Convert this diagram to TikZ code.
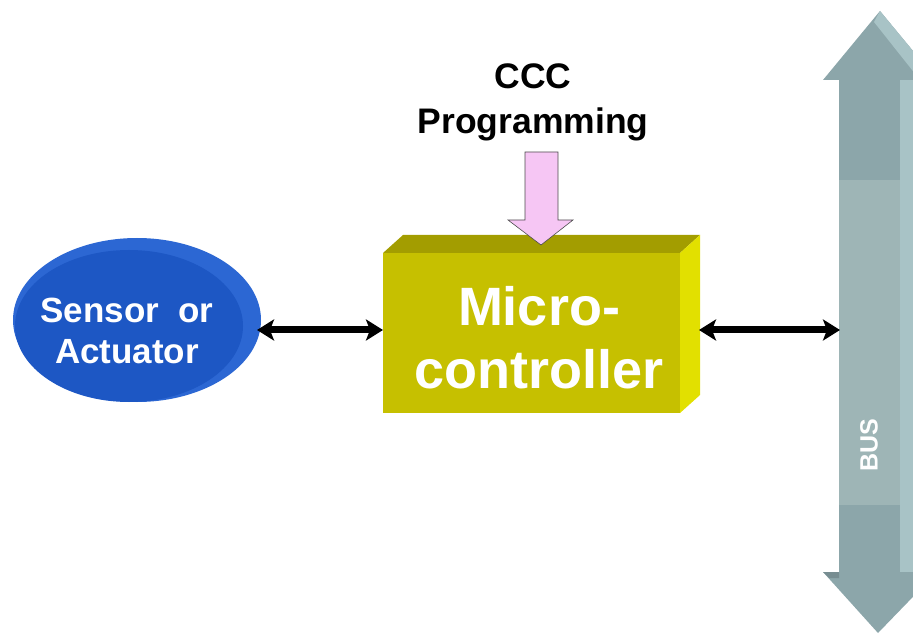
\documentclass[tikz,border=0pt]{standalone}
\usepackage{fontspec}
\setmainfont{Liberation Sans}
\usetikzlibrary{arrows.meta}
\definecolor{senseblue}{HTML}{2C67D3}
\definecolor{senseblueD}{HTML}{1D57C4}
\definecolor{mcufront}{HTML}{C6C000}
\definecolor{mcutop}{HTML}{A39D00}
\definecolor{mcuside}{HTML}{E2E000}
\definecolor{progpink}{HTML}{F6C6F4}
\definecolor{busdark}{HTML}{8CA6AA}
\definecolor{busmid}{HTML}{9EB5B6}
\definecolor{buslight}{HTML}{A8C3C6}
\tikzset{
  link/.style={line width=7pt, {Stealth[length=17pt,width=21pt,inset=4pt]}-{Stealth[length=17pt,width=21pt,inset=4pt]}},
  whitetext/.style={text=white, font=\bfseries, align=center},
}
\begin{document}
\begin{tikzpicture}[x=1pt,y=-1pt]
\useasboundingbox (0,0) rectangle (913,636);
\clip (0,0) rectangle (913,636);

% bus: double-headed bar along the right side
\fill[busdark] (880,11) -- (937,80) -- (923,80) -- (923,572) -- (937,572)
  -- (878,633) -- (823,572) -- (839,572) -- (839,80) -- (823,80) -- cycle;
\fill[busmid] (839,180) rectangle (900,505);
\fill[buslight] (900,80) rectangle (923,572);
\fill[buslight] (880,11) -- (937,80) -- (920,80) -- (874,22) -- cycle;
\fill[busdark!85!black] (823,572) -- (839,572) -- (839,578) -- (829,578) -- cycle;
\node[whitetext, font=\bfseries\fontsize{25}{28}\selectfont, rotate=90] (bus) at (869,445) {BUS};
\coordinate (busin) at (840,330);

% sensor / actuator disc
\fill[senseblue] (137,320) ellipse [x radius=124, y radius=82];
\fill[senseblueD] (129,326) ellipse [x radius=114, y radius=76];
\node[minimum width=246pt, minimum height=164pt] (sensor) at (137,320) {};
\node[whitetext, font=\bfseries\fontsize{35}{41}\selectfont] (sensortext) at (127,331) {Sensor\ \ or\\Actuator};

% microcontroller block
\fill[mcutop] (383,253) -- (403,235) -- (700,235) -- (680,253) -- cycle;
\fill[mcuside] (680,253) -- (700,235) -- (700,395) -- (680,413) -- cycle;
\node[fill=mcufront, minimum width=297pt, minimum height=160pt, inner sep=0pt] (mcu) at (531.5,333) {};
\node[whitetext, font=\bfseries\fontsize{54}{63}\selectfont] (mcutext) at (539,338) {Micro-\\controller};

% programming input
\node[font=\bfseries\fontsize{35.5}{45}\selectfont, align=center] (prog) at (533,102) {CCC\\Programming};
\fill[progpink, draw=black!70, line width=0.6pt]
  (525,152) -- (558,152) -- (558,220) -- (573,220) -- (541,245) -- (508,220) -- (525,220) -- cycle;

% connections
\coordinate (sensorout) at (257,330);
\coordinate (mcuin) at (383,330);
\coordinate (mcuout) at (699,330);
\draw[link] (sensorout) -- (mcuin);
\draw[link] (mcuout) -- (busin);
\end{tikzpicture}
\end{document}
